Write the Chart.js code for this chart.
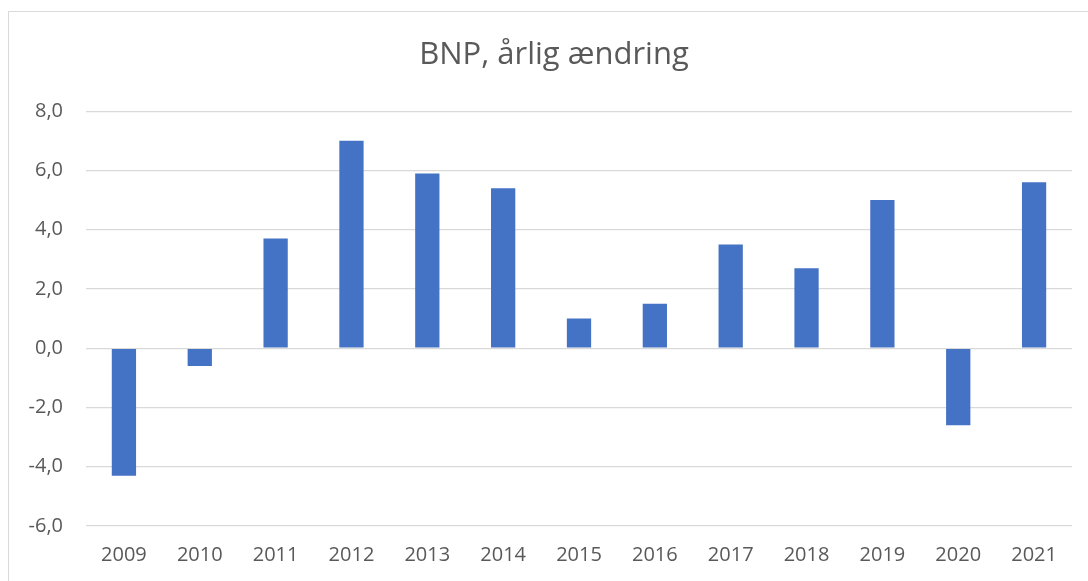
<!DOCTYPE html>
<html>
<head>
<meta charset="utf-8">
<script src="https://cdn.jsdelivr.net/npm/chart.js@4"></script>
<style>
  html, body { margin: 0; padding: 0; background: #fff; overflow: hidden; }
  #frame { position: absolute; left: 8px; top: 11px; width: 1200px; height: 700px; border: 1px solid #d9d9d9; box-sizing: border-box; }
  #wrap { position: absolute; left: 0; top: 0; width: 1088px; height: 581px; }
</style>
</head>
<body>
<div id="frame"></div>
<div id="wrap"><canvas id="c" width="1088" height="581"></canvas></div>
<script>
const chartTitle = "BNP, årlig ændring";
const years = ["2009","2010","2011","2012","2013","2014","2015","2016","2017","2018","2019","2020","2021"];
const gdpChange = [-4.3, -0.6, 3.7, 7.0, 5.9, 5.4, 1.0, 1.5, 3.5, 2.7, 5.0, -2.6, 5.6];
const yMin = -6, yMax = 8, yStep = 2;

const textColor = "#595959";
const fontFamily = "'Open Sans', 'Noto Sans', 'Liberation Sans', sans-serif";

new Chart(document.getElementById("c"), {
  type: "bar",
  data: {
    labels: years,
    datasets: [{
      data: gdpChange,
      backgroundColor: "#4472C4",
      borderWidth: 0,
      barPercentage: 0.32,
      categoryPercentage: 1.0,
      yAxisID: "y"
    }]
  },
  options: {
    responsive: false,
    animation: false,
    devicePixelRatio: 1,
    layout: { padding: { left: 20, right: 0, top: 0, bottom: 0 } },
    plugins: {
      legend: { display: false },
      tooltip: { enabled: false },
      title: {
        display: true,
        text: chartTitle,
        color: textColor,
        font: { family: fontFamily, size: 31, weight: "normal" },
        padding: { top: 37, bottom: 37 }
      }
    },
    scales: {
      x: {
        grid: { display: false, drawTicks: false },
        border: { display: false },
        ticks: {
          color: textColor,
          font: { family: fontFamily, size: 20 },
          padding: 17,
          maxRotation: 0
        },
        afterFit: (s) => { s.height = 55; }
      },
      y: {
        min: yMin,
        max: yMax,
        grid: { color: "#d9d9d9", lineWidth: 1.3, drawTicks: false },
        border: { display: false },
        ticks: {
          stepSize: yStep,
          color: textColor,
          font: { family: fontFamily, size: 20 },
          padding: 23,
          callback: (v) => v.toFixed(1).replace(".", ",")
        },
        afterFit: (s) => { s.width = 66; }
      },
      yRight: {
        position: "right",
        min: yMin,
        max: yMax,
        grid: { display: false, drawTicks: false },
        border: { display: false },
        ticks: { display: false },
        afterFit: (s) => { s.width = 16; }
      }
    }
  }
});
</script>
</body>
</html>
